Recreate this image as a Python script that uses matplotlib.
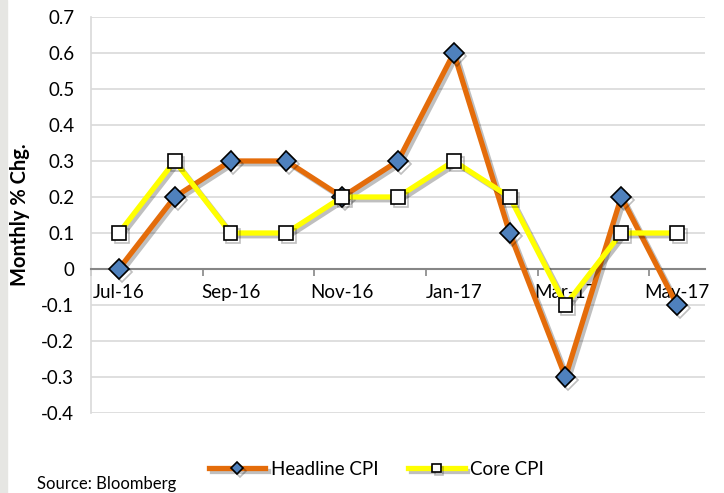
import matplotlib.pyplot as plt
import matplotlib.patheffects as pe
from matplotlib.patches import Rectangle

months = ['Jul-16', 'Aug-16', 'Sep-16', 'Oct-16', 'Nov-16', 'Dec-16',
          'Jan-17', 'Feb-17', 'Mar-17', 'Apr-17', 'May-17']
headline = [0.0, 0.2, 0.3, 0.3, 0.2, 0.3, 0.6, 0.1, -0.3, 0.2, -0.1]
core = [0.1, 0.3, 0.1, 0.1, 0.2, 0.2, 0.3, 0.2, -0.1, 0.1, 0.1]
y_ticks = [-0.4, -0.3, -0.2, -0.1, 0, 0.1, 0.2, 0.3, 0.4, 0.5, 0.6, 0.7]

plt.rcParams['font.family'] = ['Lato', 'DejaVu Sans']

fig = plt.figure(figsize=(7.24, 4.93), dpi=100)
fig.patches.append(Rectangle((0, 0), 7 / 724, 1, transform=fig.transFigure,
                             color='#e6e6e3', zorder=0))
ax = fig.add_axes([91 / 724, 1 - 413 / 493, 614 / 724, 396 / 493])

x = list(range(len(months)))
shadow = [pe.SimpleLineShadow(offset=(2, -2), shadow_color='black', alpha=0.25),
          pe.Normal()]

ax.plot(x, headline, color='#e46c0a', lw=3.8, marker='D', ms=10,
        mfc='#4f81bd', mec='black', mew=1.2, label='Headline CPI',
        path_effects=shadow, zorder=3)
ax.plot(x, core, color='#ffff00', lw=3.8, marker='s', ms=10,
        mfc='white', mec='black', mew=1.2, label='Core CPI',
        path_effects=shadow, zorder=4)

ax.set_xlim(-0.5, len(months) - 0.5)
ax.set_ylim(-0.4, 0.7)
ax.set_yticks(y_ticks)
ax.set_yticklabels(['0' if v == 0 else f'{v:.1f}' for v in y_ticks], fontsize=13.5)
ax.tick_params(axis='y', length=0, pad=12)
ax.grid(axis='y', color='#d9d9d9', lw=1.2)
ax.set_axisbelow(True)

ax.spines['bottom'].set_position(('data', 0))
ax.spines['bottom'].set_color('#868686')
ax.spines['bottom'].set_linewidth(1.5)
ax.spines['left'].set_color('#d9d9d9')
ax.spines['left'].set_linewidth(1.2)
ax.spines['top'].set_visible(False)
ax.spines['right'].set_visible(False)

ax.set_xticks([i - 0.5 for i in range(0, len(months) + 1, 2)])
ax.set_xticklabels([])
ax.tick_params(axis='x', which='major', length=5, color='#868686', width=1.2)
ax.set_xticks(x[::2], minor=True)
ax.set_xticklabels(months[::2], minor=True, fontsize=13.5)
ax.tick_params(axis='x', which='minor', length=0, pad=11)

ax.set_ylabel('Monthly % Chg.', fontsize=14.5, fontweight='bold', labelpad=8)

fig.legend(loc='center', bbox_to_anchor=(0.52, 0.048), ncol=2, frameon=False,
           fontsize=13.5, handlelength=3.0, columnspacing=1.6, handletextpad=0.3,
           markerscale=0.6)
fig.text(37 / 724, 1 - 484 / 493, 'Source: Bloomberg', fontsize=12, va='center')

fig.savefig('out.png', dpi=100)
